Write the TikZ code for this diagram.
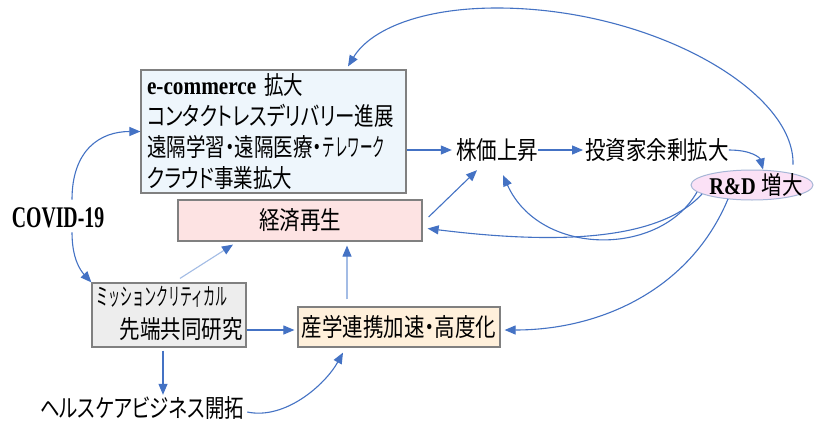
\documentclass[tikz,border=0pt]{standalone}
\usepackage{fontspec}
\setmainfont{Liberation Serif}
\newfontfamily\jp[FakeStretch=0.82,RawFeature=+palt]{Noto Sans CJK JP}
\newfontfamily\jpt[FakeStretch=0.78,RawFeature=+palt]{Noto Sans CJK JP}
\newfontfamily\jphalf[FakeStretch=0.5]{Noto Sans CJK JP}
\newfontfamily\jpm[FakeStretch=0.5]{Noto Sans CJK JP}
\newfontfamily\latA[FakeStretch=0.85]{Liberation Serif}
\newfontfamily\latB[FakeStretch=0.66]{Liberation Serif}
\usetikzlibrary{arrows.meta,shapes.geometric}
\definecolor{ablue}{HTML}{4472C4}
\definecolor{alight}{HTML}{A3BCE5}
\definecolor{bord}{HTML}{808080}
\definecolor{fblue}{HTML}{EEF6FC}
\definecolor{fpink}{HTML}{FDE3E3}
\definecolor{fgray}{HTML}{EDEDED}
\definecolor{forange}{HTML}{FFF0DB}
\definecolor{fmag}{HTML}{FBE1F6}
\definecolor{ebord}{HTML}{A6B6D6}
\tikzset{
  box/.style={draw=bord, line width=1.2pt, inner sep=0pt},
  jfont/.style={font=\jp\fontsize{25}{31}\selectfont},
  jtext/.style={jfont, inner sep=0pt, minimum height=26pt},
  arr/.style={draw=ablue, line width=1.1pt, -{Triangle[length=11pt,width=9pt]}},
  larr/.style={draw=alight, line width=1.1pt, -{Triangle[length=11pt,width=9pt,color=ablue]}}
}
\begin{document}
\begin{tikzpicture}[x=1pt,y=-1pt]
\useasboundingbox (0,0) rectangle (827,423);
\fill[white] (0,0) rectangle (827,423);

\node[box, fill=fblue, text width=253pt, inner xsep=6pt, minimum height=123pt, align=left, font=\jpt\fontsize{25}{31}\selectfont] (top) at (273.5,131.5)
  {{\latA\bfseries e-commerce}\hspace{8pt}拡大\\コンタクトレスデリバリー進展\\遠隔学習・遠隔医療・{\jphalf テレワーク}\\クラウド事業拡大};
\node[box, fill=fpink, minimum width=244pt, minimum height=41pt, jfont] (eco) at (300,220.5) {経済再生};
\node[box, fill=fgray, minimum width=154pt, minimum height=64pt] (mission) at (169,315) {};
\node[font=\jpm\fontsize{24}{26}\selectfont, inner sep=0pt, anchor=west] (m1) at (96,297) {ミッションクリティカル};
\node[jtext, anchor=east] (m2) at (243,329) {先端共同研究};
\node[box, fill=forange, minimum width=202pt, minimum height=40pt, jfont] (sangaku) at (399,327) {産学連携加速・高度化};
\node[font=\latB\bfseries\fontsize{30}{32}\selectfont, inner sep=0pt] (covid) at (58,218) {COVID-19};
\node[jtext] (kabuka) at (497,150) {株価上昇};
\node[jtext] (toushi) at (657,150) {投資家余剰拡大};
\node[ellipse, draw=ebord, line width=1pt, fill=fmag, minimum width=122pt, minimum height=30pt, inner sep=0pt] (rd) at (752,185) {};
\node[jtext] (rdt) at (756,185) {{\latA\bfseries\fontsize{24}{25}\selectfont R\&D}\hspace{6pt}増大};
\node[font=\jpt\fontsize{25}{31}\selectfont, inner sep=0pt, minimum height=26pt] (health) at (142,408) {ヘルスケアビジネス開拓};

% connectors
\draw[arr] ([xshift=14pt,yshift=8pt]covid.north) .. controls (72,150) and (100,131.5) .. (top.west);
\draw[arr] ([xshift=14pt,yshift=-4pt]covid.south) .. controls (72,258) and (80,270) .. (mission.north west);
\draw[arr] (top.east |- kabuka.west) -- ([xshift=-4pt]kabuka.west);
\draw[arr] (kabuka.east) -- ([xshift=-2pt]toushi.west);
\draw[arr] (toushi.east) .. controls (752,150) and (760,158) .. ([xshift=11pt]rd.north);
\draw[arr] ([xshift=41pt,yshift=5pt]rd.north) .. controls (795,90) and (650,8) .. (497,8)
  .. controls (420,8) and (370,30) .. ([xshift=74.5pt,yshift=3pt]top.north);
\draw[arr] ([xshift=-55pt,yshift=-7pt]rd.center) .. controls (660,257) and (540,257) .. ([xshift=6pt,yshift=-12pt]kabuka.south);
\draw[arr] ([xshift=-50pt,yshift=-9pt]rd.center) .. controls (660,240) and (560,245) .. ([xshift=5pt,yshift=-8pt]eco.east);
\draw[arr] ([xshift=-24pt,yshift=-14pt]rd.center) .. controls (690,290) and (600,330) .. ([xshift=4pt,yshift=-3pt]sangaku.east);
\draw[arr] ([xshift=6pt,yshift=3.5pt]eco.east) -- ([xshift=-20pt,yshift=-7pt]kabuka.south);
\draw[larr] ([xshift=11pt,yshift=4pt]mission.north) -- ([xshift=-67pt,yshift=-3pt]eco.south);
\draw[larr] ([xshift=-52pt,yshift=7pt]sangaku.north) -- ([xshift=47pt,yshift=-4pt]eco.south);
\draw[arr] ([yshift=-15pt]mission.east) -- ([xshift=-3pt,yshift=-3pt]sangaku.west);
\draw[arr] ([xshift=-6pt,yshift=-3pt]mission.south) -- ([xshift=21pt]health.north);
\draw[arr] ([xshift=3pt,yshift=-4pt]health.east) .. controls (285,420) and (325,385) .. ([xshift=-56pt,yshift=-5pt]sangaku.south);
\end{tikzpicture}
\end{document}
